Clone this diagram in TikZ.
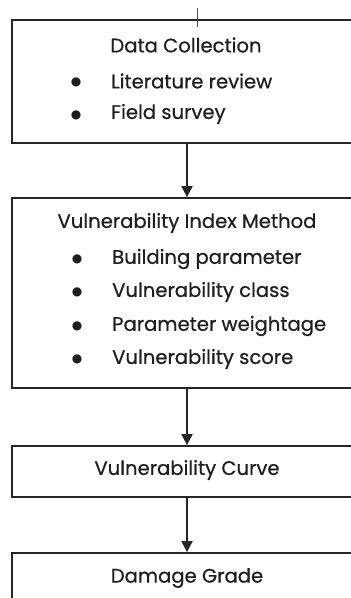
\documentclass[tikz,border=0pt]{standalone}
\usepackage{fontspec}
\setmainfont{Poppins}[FakeBold=0.6]
\newfontfamily\symfont{DejaVu Sans}
\usetikzlibrary{arrows.meta}
\begin{document}
\begin{tikzpicture}[x=1pt,y=-1pt,
  stage/.style={draw=black!85,line width=1.7pt,rectangle,minimum width=350pt,inner sep=0pt},
  lbl/.style={inner sep=0pt,font=\fontsize{19.6}{22}\selectfont,text=black!88},
  item/.style={lbl,anchor=west},
  dot/.style={inner sep=0pt,font=\symfont\fontsize{12}{14}\selectfont,text=black!88},
  flow/.style={draw=black!85,line width=1.7pt,-{Triangle[length=11pt,width=11pt]}}]
\clip (0,0) rectangle (351,598);
\fill[white] (0,0) rectangle (351,598);

% stage boxes
\node[stage,minimum height=123pt] (dc)  at (187,81.5) {};
\node[stage,minimum height=190pt] (vim) at (187,293) {};
\node[stage,minimum height=51pt]  (vc)  at (187,471.5) {};
\node[stage,minimum height=51pt]  (dg)  at (187,578.5) {};

% incoming line at the top
\coordinate (inA) at (197,8);
\coordinate (inB) at (197,27);
\draw[black!70,line width=0.8pt] (inA) -- (inB);

% Data Collection
\node[lbl] (t1) at (186,45) {Data Collection};
\node[dot] (b11) at (76,82) {●};
\node[item] (i11) at (111,81) {Literature review};
\node[dot] (b12) at (76,115) {●};
\node[item] (i12) at (111,114) {Field survey};

% Vulnerability Index Method
\node[lbl] (t2) at (187,223) {Vulnerability Index Method};
\node[dot] (b21) at (77,259) {●};
\node[item] (i21) at (112,259) {Building parameter};
\node[dot] (b22) at (77,292) {●};
\node[item] (i22) at (112,292) {Vulnerability class};
\node[dot] (b23) at (77,326) {●};
\node[item] (i23) at (112,326) {Parameter weightage};
\node[dot] (b24) at (77,359) {●};
\node[item] (i24) at (112,359) {Vulnerability score};

% single-line stages
\node[lbl] (t3) at (187,470) {Vulnerability Curve};
\node[lbl] (t4) at (187,578) {Damage Grade};

% connectors
\draw[flow] (dc.south) -- (vim.north);
\draw[flow] (vim.south) -- (vc.north);
\draw[flow] (vc.south) -- (dg.north);
\end{tikzpicture}
\end{document}
